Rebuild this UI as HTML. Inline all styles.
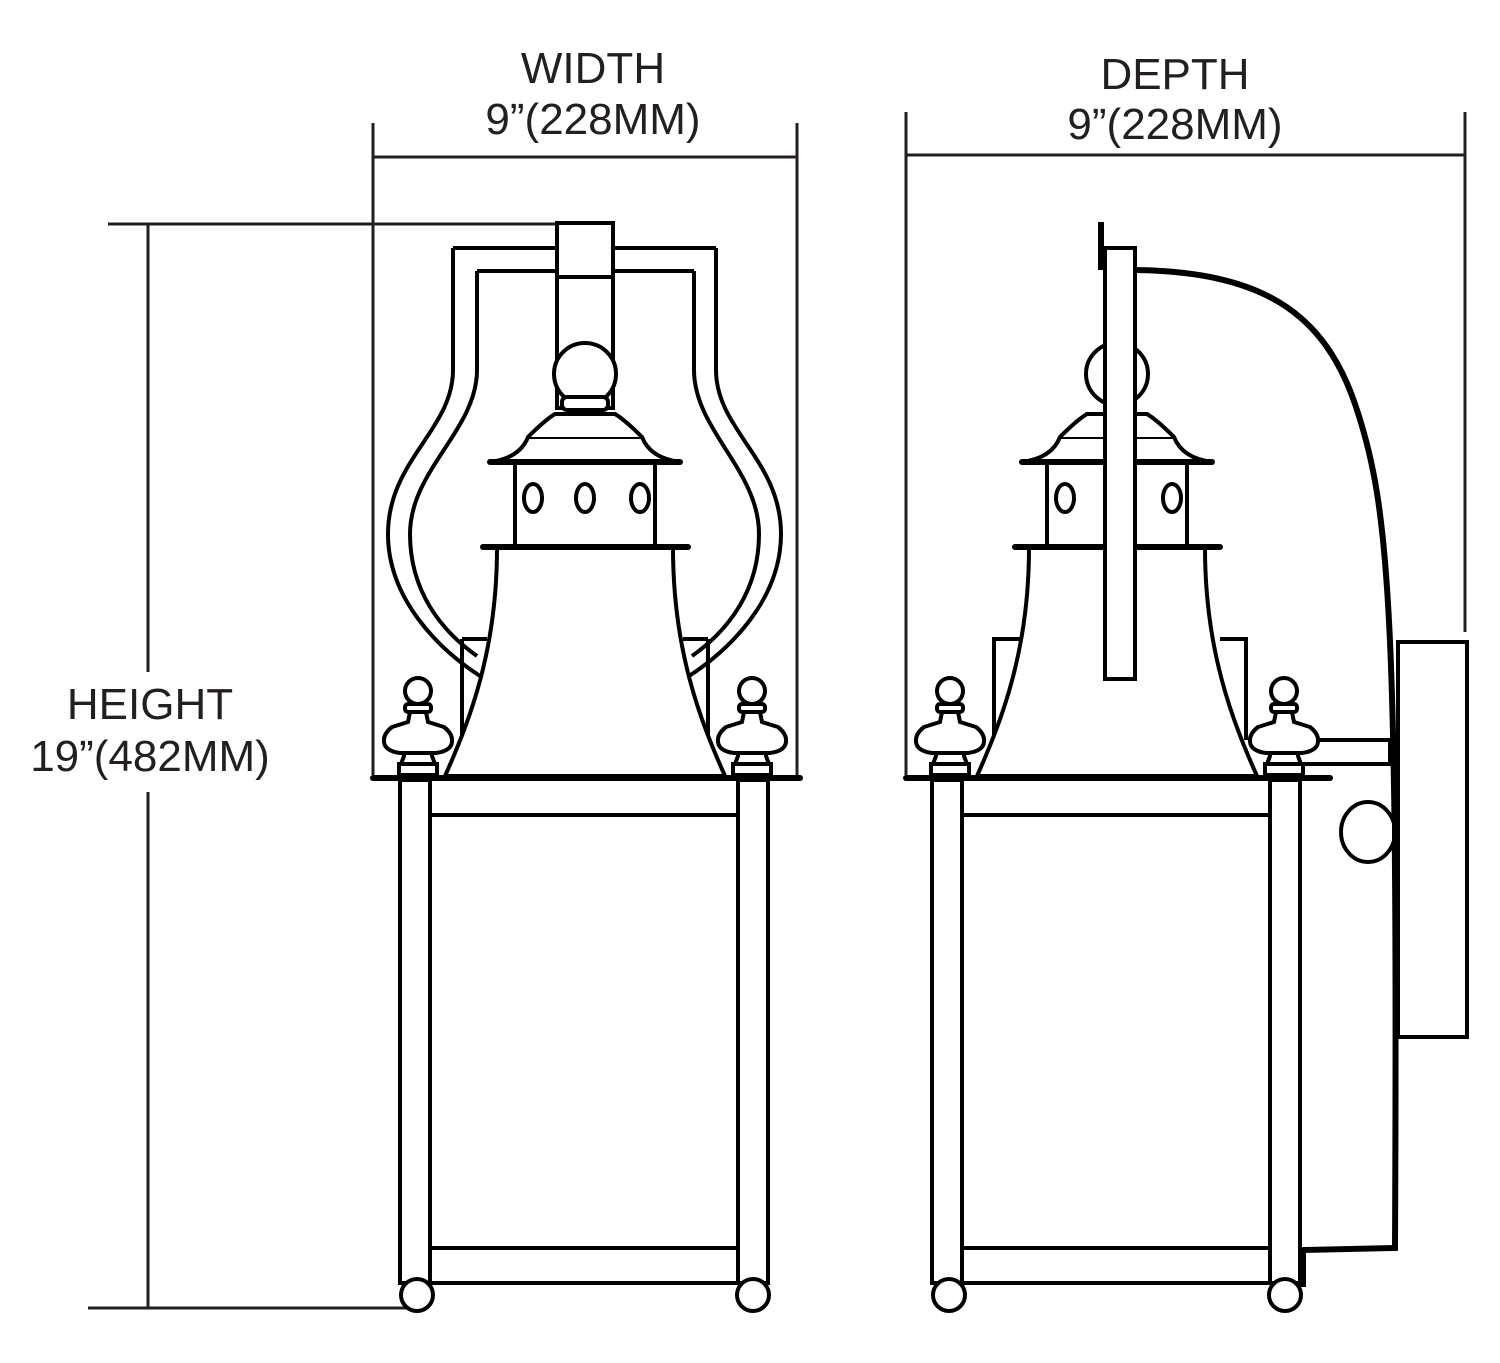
<!DOCTYPE html>
<html><head><meta charset="utf-8"><style>
html,body{margin:0;padding:0;background:#fff;}
svg{display:block;}
text{font-family:"Liberation Sans",sans-serif;fill:#231f20;font-size:44px;}
</style></head><body>
<svg width="1500" height="1363" viewBox="0 0 1500 1363" xmlns="http://www.w3.org/2000/svg">
<defs>
<g id="fin" fill="#fff" stroke="#000" stroke-width="4">
  <path d="M-14,756 L-14,748 L14,748 L14,756 L17,764 L-17,764 Z"/>
  <rect x="-19" y="764" width="38" height="11"/>
  <path d="M-10,722 L-8,712 L8,712 L10,722 L26,727 Q35,734 34,742 Q33,751 18,753 L-18,753 Q-33,751 -34,742 Q-35,734 -26,727 Z"/>
  <rect x="-13" y="704" width="26" height="8" rx="3"/>
  <circle cx="0" cy="691" r="13"/>
</g>
<g id="body" fill="none" stroke="#000" stroke-width="4">
  <rect x="400" y="780" width="30" height="503"/>
  <rect x="738" y="780" width="30" height="503"/>
  <line x1="430" y1="815" x2="738" y2="815"/>
  <line x1="430" y1="1248" x2="738" y2="1248"/>
  <line x1="430" y1="1283" x2="738" y2="1283"/>
  <circle cx="417" cy="1295" r="16" fill="#fff"/>
  <circle cx="753" cy="1295" r="16" fill="#fff"/>
</g>
<g id="cup" fill="#fff" stroke="#000" stroke-width="4">
  <path d="M497,548 C497,650 470,720 445,776 L725,776 C700,720 673,650 673,548 Z"/>
  <rect x="515" y="462" width="140" height="84"/>
  <ellipse cx="533" cy="498" rx="9" ry="14"/>
  <ellipse cx="585" cy="498" rx="9" ry="14"/>
  <ellipse cx="640" cy="498" rx="9" ry="14"/>
  <path d="M490,462 Q520,458 528,437 L642,437 Q650,458 680,462 Z" stroke-linejoin="round"/>
  <line x1="490" y1="462" x2="680" y2="462" stroke-width="6" stroke-linecap="round"/>
  <path d="M528,437 Q545,420 555,414 L615,414 Q625,420 642,437"/>
  <line x1="483" y1="547" x2="688" y2="547" stroke-width="6" stroke-linecap="round"/>
</g>
</defs>

<g stroke="#231f20" stroke-width="3" fill="none">
  <line x1="148" y1="224" x2="148" y2="672"/>
  <line x1="148" y1="792" x2="148" y2="1308"/>
  <line x1="108" y1="224" x2="557" y2="224"/>
  <line x1="88" y1="1308" x2="418" y2="1308"/>
  <line x1="373" y1="123" x2="373" y2="775"/>
  <line x1="797" y1="123" x2="797" y2="775"/>
  <line x1="373" y1="157" x2="797" y2="157"/>
  <line x1="906" y1="112" x2="906" y2="775"/>
  <line x1="1465" y1="112" x2="1465" y2="632"/>
  <line x1="906" y1="155" x2="1465" y2="155"/>
</g>
<text x="593" y="83" text-anchor="middle">WIDTH</text>
<text x="593" y="134" text-anchor="middle">9”(228MM)</text>
<text x="1175" y="89" text-anchor="middle">DEPTH</text>
<text x="1175" y="139" text-anchor="middle">9”(228MM)</text>
<text x="150" y="719" text-anchor="middle">HEIGHT</text>
<text x="150" y="771" text-anchor="middle">19”(482MM)</text>

<g fill="none" stroke="#000" stroke-width="4">
  <path d="M453,248 L453,370 C453,430 388,460 388,534 C388,600 440,650 480,676"/>
  <path d="M716,248 L716,370 C716,430 781,460 781,534 C781,600 729,650 689,676"/>
  <path d="M477,656 C440,630 410,590 410,534 C410,470 477,430 477,370 L477,271"/>
  <path d="M692,656 C729,630 759,590 759,534 C759,470 694,430 694,370 L694,271"/>
  <line x1="453" y1="248" x2="557" y2="248"/>
  <line x1="613" y1="248" x2="716" y2="248"/>
  <line x1="477" y1="271" x2="557" y2="271"/>
  <line x1="613" y1="271" x2="694" y2="271"/>
  <line x1="462" y1="639" x2="487" y2="639"/>
  <line x1="462" y1="639" x2="462" y2="776"/>
  <line x1="683" y1="639" x2="708" y2="639"/>
  <line x1="708" y1="639" x2="708" y2="776"/>
  <rect x="557" y="223" width="56" height="185" fill="#fff"/>
  <line x1="557" y1="277" x2="613" y2="277"/>
  <circle cx="585" cy="374" r="31" fill="#fff"/>
  <rect x="562" y="397" width="46" height="13" rx="5" fill="#fff"/>
</g>
<use href="#cup"/>
<line x1="373" y1="778" x2="800" y2="778" stroke="#000" stroke-width="6" stroke-linecap="round"/>
<use href="#fin" x="418" y="0"/>
<use href="#fin" x="752" y="0"/>
<use href="#body"/>

<g fill="none" stroke="#000" stroke-width="4">
  <path d="M994,776 L994,639 L1020,639"/>
  <path d="M1220,639 L1246,639 L1246,740"/>
  <rect x="1398" y="642" width="69" height="395" fill="#fff"/>
  <path d="M1135,270 C1260,272 1325,310 1357,410 C1390,510 1398,620 1395,1248 L1303,1250 L1303,1287" stroke-width="6"/>
  <path d="M1282,740 L1390,740 L1390,764 L1282,764" fill="#fff"/>
  <ellipse cx="1368" cy="832" rx="27" ry="30" fill="#fff"/>
  <line x1="1395" y1="800" x2="1395" y2="870" stroke-width="6"/>
</g>
<g transform="translate(532,0)">
  <circle cx="585" cy="374" r="31" fill="#fff" stroke="#000" stroke-width="4"/>
  <use href="#cup"/>
</g>
<g fill="#fff" stroke="#000" stroke-width="4">
  <rect x="1105" y="248" width="30" height="431"/>
  <line x1="1101" y1="222" x2="1101" y2="270" stroke-width="6"/>
</g>
<line x1="906" y1="778" x2="1330" y2="778" stroke="#000" stroke-width="6" stroke-linecap="round"/>
<use href="#fin" x="950" y="0"/>
<use href="#fin" x="1284" y="0"/>
<use href="#body" x="532" y="0"/>
</svg>
</body></html>
